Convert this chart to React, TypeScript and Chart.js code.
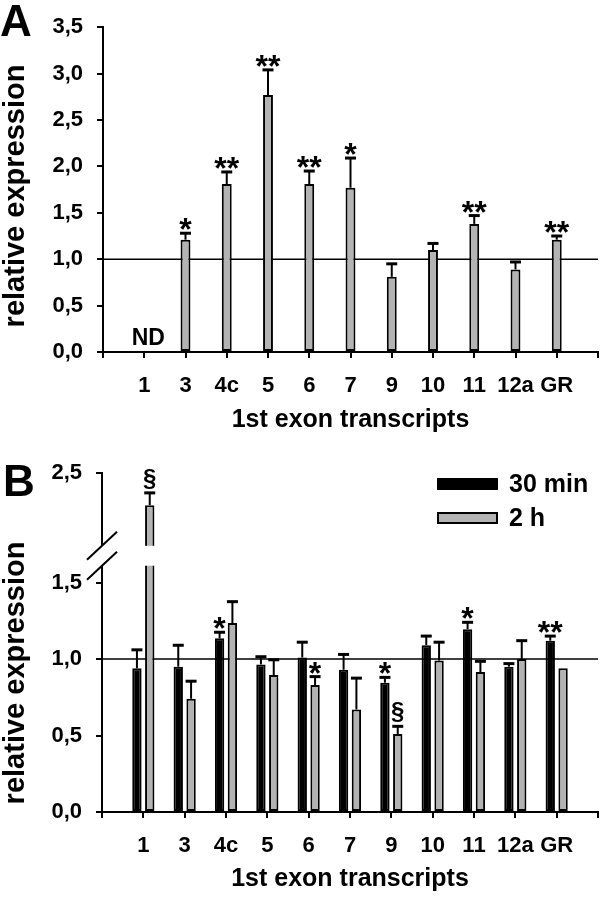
import React, { useEffect, useRef } from 'react';
import { Chart, registerables } from 'chart.js';
Chart.register(...registerables);

const FONT = "'Liberation Sans', Arial, Helvetica, sans-serif";
const GRAY = '#b3b3b3';

// categories (1st exon transcripts)
const categories = ['1', '3', '4c', '5', '6', '7', '9', '10', '11', '12a', 'GR'];

// Panel A
const valuesA: (number | null)[] = [null, 1.21, 1.81, 2.77, 1.81, 1.77, 0.81, 1.1, 1.38, 0.89, 1.21];
const errorsA: (number | null)[] = [null, 0.07, 0.13, 0.27, 0.14, 0.32, 0.14, 0.07, 0.09, 0.08, 0.04];
const marksA = ['', '*', '**', '**', '**', '*', '', '', '**', '', '**'];
const yTicksA = [0, 0.5, 1, 1.5, 2, 2.5, 3, 3.5];

// Panel B
const seriesBLabels = ['30 min', '2 h'];
const values30: number[] = [0.94, 0.95, 1.135, 0.965, 1.01, 0.93, 0.845, 1.09, 1.195, 0.95, 1.12];
const errors30: (number | null)[] = [0.12, 0.14, 0.04, 0.05, 0.1, 0.1, 0.035, 0.06, 0.045, 0.02, 0.03];
const marks30 = ['', '', '*', '', '', '', '*', '', '*', '', '**'];
const values2h: number[] = [2.29, 0.74, 1.235, 0.895, 0.83, 0.67, 0.51, 0.99, 0.915, 1.0, 0.94];
const errors2h: (number | null)[] = [0.08, 0.115, 0.14, 0.1, 0.055, 0.205, 0.05, 0.12, 0.07, 0.12, null];
const marks2h = ['§', '', '', '', '*', '', '§', '', '', '', ''];
const yTicksB = [0, 0.5, 1, 1.5, 2.5];

// axis break for panel B
const BREAK_AT = 1.9;
const SHIFT = 0.284;
const BREAK_LOW_D = 1.61;
const BREAK_HIGH_D = 1.74;
const toDisplay = (v: number) => (v > BREAK_AT ? v - SHIFT : v);
const fromDisplay = (d: number) => (d > BREAK_AT - SHIFT ? d + SHIFT : d);

const REF_LINE = 1.0;
const Y_TITLE = 'relative expression';
const X_TITLE = '1st exon transcripts';

const fmt = (v: number) => v.toFixed(1).replace('.', ',');
const axisLabels = ['', ...categories, ''];
const pad = <T,>(arr: T[]) => [null, ...arr, null];

function drawMark(ctx: CanvasRenderingContext2D, text: string, x: number, capY: number) {
  if (!text) return;
  ctx.save();
  ctx.fillStyle = '#000';
  ctx.textAlign = 'center';
  ctx.textBaseline = 'alphabetic';
  const isSect = text.includes('§');
  ctx.font = isSect ? `bold 24px ${FONT}` : `bold 32px ${FONT}`;
  const m = ctx.measureText(text);
  const gap = isSect ? 4 : 3;
  ctx.fillText(text, x, capY - gap - m.actualBoundingBoxDescent);
  ctx.restore();
}

function drawErr(ctx: CanvasRenderingContext2D, x: number, yTop: number, yErr: number, half: number) {
  ctx.save();
  ctx.strokeStyle = '#000';
  ctx.lineWidth = 2;
  ctx.beginPath();
  ctx.moveTo(x, yTop);
  ctx.lineTo(x, yErr);
  ctx.stroke();
  ctx.lineWidth = 3;
  ctx.beginPath();
  ctx.moveTo(x - half, yErr);
  ctx.lineTo(x + half, yErr);
  ctx.stroke();
  ctx.restore();
}

function refLine(chart: any) {
  const { ctx, chartArea } = chart;
  const y = chart.scales.y.getPixelForValue(REF_LINE);
  ctx.save();
  ctx.strokeStyle = '#000';
  ctx.lineWidth = 1.5;
  ctx.beginPath();
  ctx.moveTo(chartArea.left, y);
  ctx.lineTo(chartArea.right, y);
  ctx.stroke();
  ctx.restore();
}

function letter(chart: any, t: string, x: number, y: number) {
  const ctx = chart.ctx;
  ctx.save();
  ctx.fillStyle = '#000';
  ctx.font = `bold 44px ${FONT}`;
  ctx.textAlign = 'left';
  ctx.textBaseline = 'alphabetic';
  ctx.fillText(t, x, y);
  ctx.restore();
}

function yTitle(chart: any, cx: number, cy: number) {
  const ctx = chart.ctx;
  ctx.save();
  ctx.translate(cx, cy);
  ctx.rotate(-Math.PI / 2);
  ctx.fillStyle = '#000';
  ctx.font = `bold 29px ${FONT}`;
  ctx.textAlign = 'center';
  ctx.textBaseline = 'middle';
  ctx.fillText(Y_TITLE, 0, 0);
  ctx.restore();
}

const overlayA = {
  id: 'overlayA',
  beforeDatasetsDraw(chart: any) {
    refLine(chart);
  },
  afterDatasetsDraw(chart: any) {
    const ctx = chart.ctx;
    const ys = chart.scales.y;
    const xs = chart.scales.x;
    const meta = chart.getDatasetMeta(0);
    valuesA.forEach((v, i) => {
      const bar = meta.data[i + 1];
      if (v == null) {
        ctx.save();
        ctx.fillStyle = '#000';
        ctx.font = `bold 23px ${FONT}`;
        ctx.textAlign = 'center';
        ctx.textBaseline = 'alphabetic';
        ctx.fillText('ND', xs.getPixelForValue(i + 1) + 4, ys.getPixelForValue(0) - 7);
        ctx.restore();
        return;
      }
      const e = errorsA[i];
      const top = ys.getPixelForValue(v);
      let capY = top;
      if (e != null) {
        capY = ys.getPixelForValue(v + e);
        drawErr(ctx, bar.x, top, capY, 5.5);
      }
      drawMark(ctx, marksA[i], bar.x, capY);
    });
  },
  afterDraw(chart: any) {
    letter(chart, 'A', 0, 36);
    yTitle(chart, 16, 196);
  },
};

const overlayB = {
  id: 'overlayB',
  beforeDatasetsDraw(chart: any) {
    refLine(chart);
  },
  afterDatasetsDraw(chart: any) {
    const ctx = chart.ctx;
    const ys = chart.scales.y;
    const yHi = ys.getPixelForValue(BREAK_HIGH_D);
    const yLo = ys.getPixelForValue(BREAK_LOW_D);
    const sets = [
      { values: values30, errors: errors30, marks: marks30 },
      { values: values2h, errors: errors2h, marks: marks2h },
    ];
    sets.forEach((s, di) => {
      const meta = chart.getDatasetMeta(di);
      s.values.forEach((v, i) => {
        const bar = meta.data[i + 1];
        if (v > BREAK_AT) {
          ctx.save();
          ctx.fillStyle = '#fff';
          ctx.fillRect(bar.x - bar.width / 2 - 1, yHi, bar.width + 2, yLo - yHi);
          ctx.restore();
        }
        const top = ys.getPixelForValue(toDisplay(v));
        const e = s.errors[i];
        let capY = top;
        if (e != null) {
          capY = ys.getPixelForValue(toDisplay(v + e));
          drawErr(ctx, bar.x, top, capY, 5.5);
        }
        drawMark(ctx, s.marks[i], bar.x, capY);
      });
    });
    // axis break
    const ax = chart.chartArea.left;
    ctx.save();
    ctx.fillStyle = '#fff';
    ctx.fillRect(ax - 3, yHi, 6, yLo - yHi);
    ctx.strokeStyle = '#000';
    ctx.lineWidth = 2;
    [yHi, yLo].forEach((yy) => {
      ctx.beginPath();
      ctx.moveTo(ax - 15, yy + 14);
      ctx.lineTo(ax + 15, yy - 14);
      ctx.stroke();
    });
    ctx.restore();
  },
  afterDraw(chart: any) {
    letter(chart, 'B', 3, 51);
    yTitle(chart, 16, 228);
    // legend
    const ctx = chart.ctx;
    const fills = ['#000', GRAY];
    const rows = [39, 73];
    ctx.save();
    seriesBLabels.forEach((lab, i) => {
      const cy = rows[i];
      ctx.fillStyle = fills[i];
      ctx.fillRect(437, cy - 6, 61, 12);
      ctx.strokeStyle = '#000';
      ctx.lineWidth = 2;
      ctx.strokeRect(438, cy - 5, 59, 10);
      ctx.fillStyle = '#000';
      ctx.font = `bold 25px ${FONT}`;
      ctx.textAlign = 'left';
      ctx.textBaseline = 'middle';
      ctx.fillText(lab, 509, cy + 1);
    });
    ctx.restore();
  },
};

const tickFont = { family: FONT, size: 22, weight: 'bold' as const };
const titleFont = { family: FONT, size: 25, weight: 'bold' as const };

function xScale(height: number) {
  return {
    type: 'category' as const,
    offset: false,
    grid: { display: true, drawOnChartArea: false, drawTicks: true, tickLength: 6, color: '#000', lineWidth: 2, offset: false },
    border: { display: true, color: '#000', width: 2 },
    ticks: { color: '#000', font: tickFont, padding: 15, autoSkip: false, maxRotation: 0 },
    title: { display: true, text: X_TITLE, color: '#000', font: titleFont, padding: 0 },
    afterFit: (s: any) => {
      s.height = height;
    },
  };
}

function yScale(min: number, max: number, ticks: number[], map: (v: number) => number, unmap: (v: number) => number, width: number) {
  return {
    min,
    max,
    afterBuildTicks: (s: any) => {
      s.ticks = ticks.map((v) => ({ value: map(v) }));
    },
    ticks: { color: '#000', font: tickFont, padding: 14, callback: (v: any) => fmt(unmap(Number(v))) },
    grid: { display: true, drawOnChartArea: false, drawTicks: true, tickLength: 6, color: '#000', lineWidth: 2 },
    border: { display: true, color: '#000', width: 2 },
    title: { display: false },
    afterFit: (s: any) => {
      s.width = width;
    },
  };
}

export default function App() {
  const refA = useRef<HTMLCanvasElement>(null);
  const refB = useRef<HTMLCanvasElement>(null);

  useEffect(() => {
    const ident = (v: number) => v;
    const chartA = new Chart(refA.current as HTMLCanvasElement, {
      type: 'bar',
      data: {
        labels: axisLabels,
        datasets: [
          {
            label: 'A',
            data: pad(valuesA) as any,
            backgroundColor: GRAY,
            borderColor: '#000',
            borderWidth: 2,
            borderSkipped: false,
            categoryPercentage: 1,
            barPercentage: 0.24,
          },
        ],
      },
      options: {
        animation: false,
        responsive: false,
        maintainAspectRatio: false,
        layout: { padding: { top: 11, right: 4, bottom: 10, left: 0 } },
        plugins: { legend: { display: false }, tooltip: { enabled: false } },
        scales: {
          x: xScale(83) as any,
          y: yScale(0, 3.5, yTicksA, ident, ident, 103) as any,
        },
      },
      plugins: [overlayA],
    });

    const chartB = new Chart(refB.current as HTMLCanvasElement, {
      type: 'bar',
      data: {
        labels: axisLabels,
        datasets: [
          {
            label: seriesBLabels[0],
            data: pad(values30) as any,
            backgroundColor: '#000',
            borderColor: '#000',
            borderWidth: 2,
            borderSkipped: false,
            categoryPercentage: 0.62,
            barPercentage: 0.73,
          },
          {
            label: seriesBLabels[1],
            data: pad(values2h.map(toDisplay)) as any,
            backgroundColor: GRAY,
            borderColor: '#000',
            borderWidth: 2,
            borderSkipped: false,
            categoryPercentage: 0.62,
            barPercentage: 0.73,
          },
        ],
      },
      options: {
        animation: false,
        responsive: false,
        maintainAspectRatio: false,
        layout: { padding: { top: 28, right: 5, bottom: 5, left: 0 } },
        plugins: { legend: { display: false }, tooltip: { enabled: false } },
        scales: {
          x: xScale(82) as any,
          y: yScale(0, toDisplay(2.5), yTicksB, toDisplay, fromDisplay, 102) as any,
        },
      },
      plugins: [overlayB],
    });

    return () => {
      chartA.destroy();
      chartB.destroy();
    };
  }, []);

  return (
    <div style={{ position: 'absolute', left: 0, top: 0, width: 613, height: 899, background: '#fff' }}>
      <canvas ref={refA} width={613} height={445} style={{ position: 'absolute', left: 0, top: 0, width: 613, height: 445, display: 'block' }} />
      <canvas ref={refB} width={613} height={454} style={{ position: 'absolute', left: 0, top: 445, width: 613, height: 454, display: 'block' }} />
    </div>
  );
}
